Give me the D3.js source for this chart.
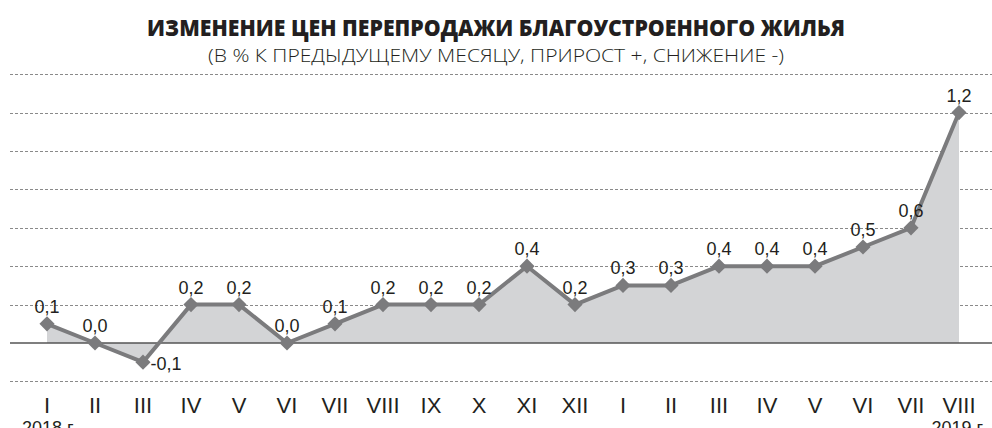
<!DOCTYPE html>
<html><head><meta charset="utf-8">
<script src="https://cdn.jsdelivr.net/npm/d3@7"></script>
<style>body{margin:0;background:#fff}svg{display:block}</style>
</head><body><svg id="c" width="992" height="428"></svg>
<script>
const months = ["I","II","III","IV","V","VI","VII","VIII","IX","X","XI","XII","I","II","III","IV","V","VI","VII","VIII"];
const values = [0.1,0.0,-0.1,0.2,0.2,0.0,0.1,0.2,0.2,0.2,0.4,0.2,0.3,0.3,0.4,0.4,0.4,0.5,0.6,1.2];
const valueLabels = ["0,1","0,0","-0,1","0,2","0,2","0,0","0,1","0,2","0,2","0,2","0,4","0,2","0,3","0,3","0,4","0,4","0,4","0,5","0,6","1,2"];
const gridTicks = [-0.2,0.2,0.4,0.6,0.8,1.0,1.2,1.4];
const years = ["2018 г.","2019 г."];
const title = "ИЗМЕНЕНИЕ ЦЕН ПЕРЕПРОДАЖИ БЛАГОУСТРОЕННОГО ЖИЛЬЯ";
const subtitle = "(В % К ПРЕДЫДУЩЕМУ МЕСЯЦУ, ПРИРОСТ +, СНИЖЕНИЕ -)";

const svg = d3.select("#c");
const x = d3.scalePoint().domain(d3.range(months.length)).range([47,959]);
const y = d3.scaleLinear().domain([-0.2,1.4]).range([381.4,74.2]);
const data = values.map((v,i)=>({i,v,l:valueLabels[i]}));

svg.append("text").attr("x",496).attr("y",36).attr("text-anchor","middle")
  .attr("font-family","Open Sans").attr("font-weight",800).attr("font-size",23)
  .attr("textLength",698).attr("lengthAdjust","spacingAndGlyphs").attr("fill","#231f20").text(title);
svg.append("text").attr("x",496).attr("y",62).attr("text-anchor","middle")
  .attr("font-family","Open Sans").attr("font-weight",300).attr("font-size",19)
  .attr("textLength",576).attr("lengthAdjust","spacingAndGlyphs").attr("fill","#231f20").text(subtitle);

svg.append("g").selectAll("line").data(gridTicks).join("line")
  .attr("x1",10).attr("x2",992).attr("y1",d=>Math.round(y(d))+0.5).attr("y2",d=>Math.round(y(d))+0.5)
  .attr("stroke","#8a8a8a").attr("stroke-width",1).attr("stroke-dasharray","3,2");

const area = d3.area().x(d=>x(d.i)).y0(y(0)).y1(d=>y(d.v));
svg.append("path").datum(data).attr("d",area).attr("fill","#d3d4d6");

svg.append("line").attr("x1",10).attr("x2",992).attr("y1",y(0)).attr("y2",y(0))
  .attr("stroke","#555").attr("stroke-width",1.3);

const line = d3.line().x(d=>x(d.i)).y(d=>y(d.v));
svg.append("path").datum(data).attr("d",line).attr("fill","none")
  .attr("stroke","#7b7b7d").attr("stroke-width",4).attr("stroke-linejoin","round");

svg.append("g").selectAll("path").data(data).join("path")
  .attr("d",d3.symbol().type(d3.symbolSquare).size(115))
  .attr("transform",d=>`translate(${x(d.i)},${y(d.v)}) rotate(45)`).attr("fill","#7b7b7d");

svg.append("g").selectAll("text").data(data).join("text")
  .attr("x",d=>d.v<0 ? x(d.i)+23 : x(d.i))
  .attr("y",d=>d.v<0 ? y(d.v)+8 : y(d.v)-11)
  .attr("text-anchor","middle")
  .attr("font-family","Liberation Sans Narrow, Liberation Sans").attr("font-size",18)
  .attr("fill","#231f20").text(d=>d.l);

svg.append("g").selectAll("text").data(months).join("text")
  .attr("x",(d,i)=>x(i)).attr("y",413).attr("text-anchor","middle")
  .attr("font-family","Liberation Sans Narrow, Liberation Sans").attr("font-size",22)
  .attr("fill","#231f20").text(d=>d);

svg.append("text").attr("x",22).attr("y",434).attr("font-family","Liberation Sans Narrow, Liberation Sans")
  .attr("font-size",18).attr("fill","#231f20").text(years[0]);
svg.append("text").attr("x",986).attr("y",434).attr("text-anchor","end").attr("font-family","Liberation Sans Narrow, Liberation Sans")
  .attr("font-size",18).attr("fill","#231f20").text(years[1]);
</script></body></html>
